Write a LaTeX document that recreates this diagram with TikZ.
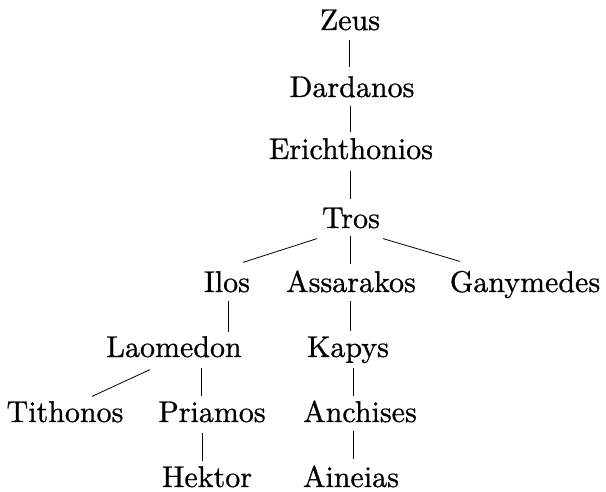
\documentclass[tikz,border=0pt]{standalone}
\usepackage{fontspec}
\newfontfamily\heavyserif{Latin Modern Roman}[FakeBold=0.8]
\usetikzlibrary{calc}
\begin{document}
\begin{tikzpicture}[x=1pt,y=-1pt,
  person/.style={anchor=base,inner sep=0pt,scale=3,text height=7pt,text depth=2pt,font=\heavyserif\fontsize{10}{12}\selectfont},
  link/.style={line width=0.8pt}]
\useasboundingbox (0,0) rectangle (606,492);
\node[person] (zeus)  at (350,30)  {Zeus};
\node[person] (dard)  at (352,97)  {Dardanos};
\node[person] (erich) at (351,159) {Erichthonios};
\node[person] (tros)  at (351,228) {Tros};
\node[person] (ilos)  at (227,292) {Ilos};
\node[person] (assar) at (351,292) {Assarakos};
\node[person] (gany)  at (525,292) {Ganymedes};
\node[person] (laom)  at (174,357) {Laomedon};
\node[person] (kapys) at (348,357) {Kapys};
\node[person] (titho) at (65,422)  {Tithonos};
\node[person] (priam) at (212,422) {Priamos};
\node[person] (anch)  at (360,422) {Anchises};
\node[person] (hekt)  at (207,487) {Hektor};
\node[person] (aine)  at (351,487) {Aineias};

\draw[link] ($(zeus.south)+(-1,3)$) -- ($(zeus.south |- dard.north)+(-1,-8)$);
\draw[link] ($(dard.south)+(-2,2)$) -- ($(dard.south |- erich.north)+(-2,-5)$);
\draw[link] ($(erich.south)+(-1,5)$) -- ($(erich.south |- tros.north)+(-1,-7)$);
\draw[link] ($(tros.south)+(-34,4)$) -- ($(ilos.north)+(16,-8)$);
\draw[link] ($(tros.south)+(-1,1)$) -- ($(tros.south |- assar.north)+(-1,-6)$);
\draw[link] ($(tros.south)+(32,4)$) -- ($(gany.north)+(-65,-9)$);
\draw[link] ($(ilos.south)+(1,2)$) -- ($(ilos.south |- laom.north)+(1,-3)$);
\draw[link] ($(assar.south)+(-1,2)$) -- ($(assar.south |- kapys.north)+(-1,-4)$);
\draw[link] ($(laom.south)+(-24,6)$) -- ($(titho.north)+(27,-4)$);
\draw[link] ($(priam.north |- laom.south)+(-11,4)$) -- ($(priam.north)+(-11,-4)$);
\draw[link] ($(kapys.south)+(5,4)$) -- ($(kapys.south |- anch.north)+(5,-4)$);
\draw[link] ($(hekt.north |- priam.south)+(-5,4)$) -- ($(hekt.north)+(-5,-4)$);
\draw[link] ($(aine.north |- anch.south)+(2,2)$) -- ($(aine.north)+(2,-6)$);
\end{tikzpicture}
\end{document}
